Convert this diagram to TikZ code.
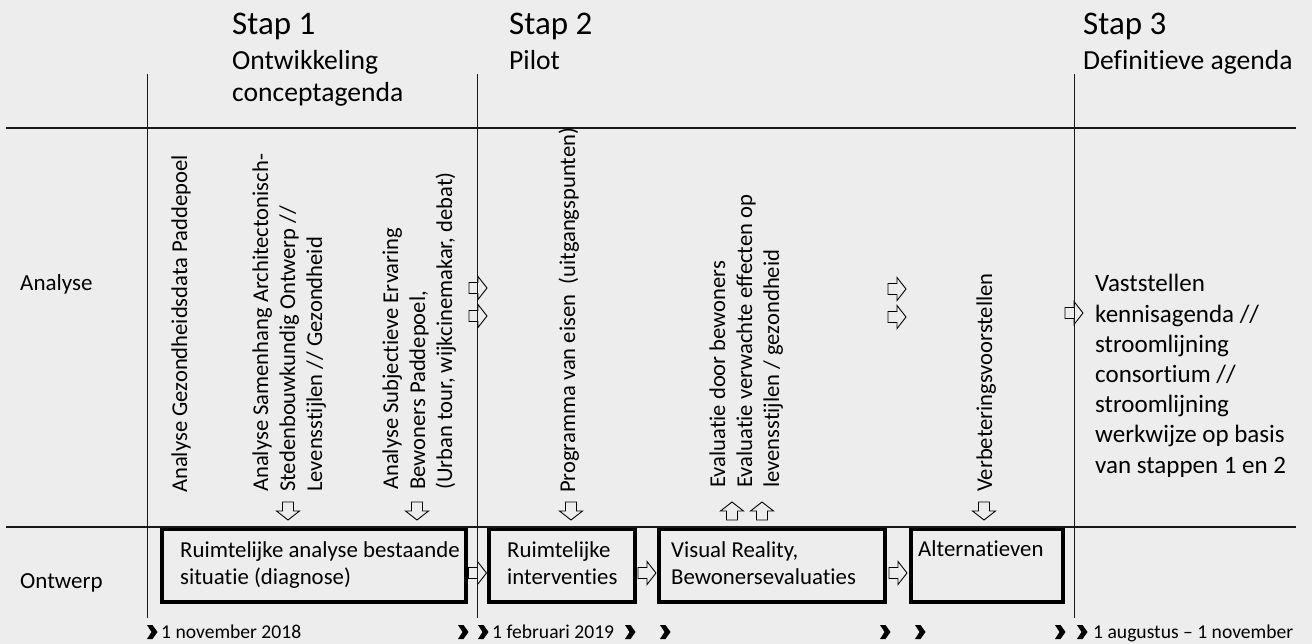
\documentclass[tikz,border=0pt]{standalone}
\usepackage{fontspec}
\setmainfont{Carlito}[Ligatures=NoCommon]
\usetikzlibrary{calc}
\definecolor{bg}{RGB}{237,237,237}
\definecolor{ln}{RGB}{25,25,25}
\tikzset{
  gridline/.style={draw=ln, line width=1.2pt},
  boxline/.style={draw=black, line width=4pt, minimum width=300pt, minimum height=73pt, inner sep=0pt},
  arr/.style={draw=black, fill=bg, line width=0.9pt, line join=miter},
  vtext/.style={rotate=90, anchor=base west, inner sep=0pt, align=left, font=\fontsize{22.6}{27}\selectfont},
  btext/.style={anchor=base west, inner sep=0pt, align=left, font=\fontsize{22.8}{26.5}\selectfont},
  dtext/.style={anchor=base west, inner sep=0pt, font=\fontsize{19.6}{23}\selectfont},
  stap/.style={anchor=base west, inner sep=0pt, font=\fontsize{33}{40}\selectfont},
  stapsub/.style={anchor=base west, inner sep=0pt, align=left, font=\fontsize{27.6}{32}\selectfont},
  rowlabel/.style={anchor=base west, inner sep=0pt, font=\fontsize{23}{28}\selectfont},
  rarrow/.pic={\draw[arr] (-9,-5.5) -- (0,-5.5) -- (0,-11.5) -- (9,0) -- (0,11.5) -- (0,5.5) -- (-9,5.5) -- cycle;},
  darrow/.pic={\draw[arr] (-5.5,-9) -- (5.5,-9) -- (5.5,0) -- (11.5,0) -- (0,9) -- (-11.5,0) -- (-5.5,0) -- cycle;},
  uarrow/.pic={\draw[arr] (-5.5,9) -- (5.5,9) -- (5.5,0) -- (11.5,0) -- (0,-9) -- (-11.5,0) -- (-5.5,0) -- cycle;},
  chev/.pic={\fill[black] (-5,-7) -- (0.5,-7) -- (5.5,0) -- (0.5,7) -- (-5,7) -- (-0.5,0) -- cycle;}
}
\begin{document}
\begin{tikzpicture}[x=1pt,y=-1pt]
\fill[bg] (0,0) rectangle (1312,644);
\useasboundingbox (0,0) rectangle (1312,644);

% boxes (Ontwerp row)
\node[boxline, minimum width=304pt] (b1) at (314,565.5) {};
\node[boxline, minimum width=146pt] (b2) at (562,565.5) {};
\node[boxline, minimum width=226pt] (b3) at (772,565.5) {};
\node[boxline, minimum width=152pt] (b4) at (987,565.5) {};

% arrows between boxes
\pic at ($($(b1.east)!0.5!(b2.west)$)+(0,7.5)$) {rarrow};
\pic at ($($(b2.east)!0.5!(b3.west)$)+(0,7.5)$) {rarrow};
\pic at ($($(b3.east)!0.5!(b4.west)$)+(0,7.5)$) {rarrow};

% right arrows in Analyse row
\pic at (478,288) {rarrow};
\pic at (478,316) {rarrow};
\pic at (897,289) {rarrow};
\pic at (897,317) {rarrow};
\pic at (1074,313) {rarrow};

% down / up arrows
\pic at (288,511) {darrow};
\pic at (417,511) {darrow};
\pic at (571,511) {darrow};
\pic at (984,511) {darrow};
\pic at (732,511) {uarrow};
\pic at (762,511) {uarrow};

% grid lines
\coordinate (h1a) at (6,128);   \coordinate (h1b) at (1296,128);
\coordinate (h2a) at (6,527);   \coordinate (h2b) at (1296,527);
\coordinate (v1a) at (147,74);  \coordinate (v1b) at (147,618);
\coordinate (v2a) at (477,74);  \coordinate (v2b) at (477,618);
\coordinate (v3a) at (1074,74); \coordinate (v3b) at (1074,618);
\draw[gridline] (h1a) -- (h1b);
\draw[gridline] (h2a) -- (h2b);
\draw[gridline, line width=1pt] (v1a) -- (v1b);
\draw[gridline, line width=1pt] (v2a) -- (v2b);
\draw[gridline, line width=1pt] (v3a) -- (v3b);

% headers (multi-line nodes: base = last line)
\node[stap] (s1) at (232,35) {Stap 1};
\node[stapsub] (s1t) at (232,102) {Ontwikkeling\\conceptagenda};
\node[stap] (s2) at (509,35) {Stap 2};
\node[stapsub] (s2t) at (509,70) {Pilot};
\node[stap] (s3) at (1083,35) {Stap 3};
\node[stapsub] (s3t) at (1083,70) {Definitieve agenda};

% row labels
\node[rowlabel] (ra) at (20,291) {Analyse};
\node[rowlabel] (ro) at (20,588) {Ontwerp};

% vertical texts (base = last line)
\node[vtext] (t1) at (187,493) {Analyse Gezondheidsdata Paddepoel};
\node[vtext] (t2) at (322,492) {Analyse Samenhang Architectonisch-\\Stedenbouwkundig Ontwerp //\\Levensstijlen // Gezondheid};
\node[vtext] (t3) at (452,490) {Analyse Subjectieve Ervaring\\Bewoners Paddepoel,\\(Urban tour, wijkcinemakar, debat)};
\node[vtext] (t4) at (575,493) {Programma van eisen~~(uitgangspunten)};
\node[vtext] (t5) at (779,488) {Evaluatie door bewoners\\Evaluatie verwachte effecten op\\levensstijlen / gezondheid};
\node[vtext] (t6) at (992,492) {Verbeteringsvoorstellen};

% Stap 3 text
\node[anchor=base west, inner sep=0pt, align=left, font=\fontsize{25}{30.2}\selectfont] (def) at (1095,473)
  {Vaststellen\\kennisagenda //\\stroomlijning\\consortium //\\stroomlijning\\werkwijze op basis\\van stappen 1 en 2};

% box texts
\node[btext] (b1t) at (180,584) {Ruimtelijke analyse bestaande\\situatie (diagnose)};
\node[btext] (b2t) at (507,584) {Ruimtelijke\\interventies};
\node[btext] (b3t) at (671,584) {Visual Reality,\\Bewonersevaluaties};
\node[btext] (b4t) at (918,556) {Alternatieven};

% timeline
\foreach \cx in {152,463,483,630,665,885,920,1060,1082} {\pic at (\cx,632) {chev};}
\node[dtext] (d1) at (161,638) {1 november 2018};
\node[dtext] (d2) at (492,638) {1 februari 2019};
\node[dtext] (d3) at (1093,638) {1 augustus -- 1 november};
\end{tikzpicture}
\end{document}
